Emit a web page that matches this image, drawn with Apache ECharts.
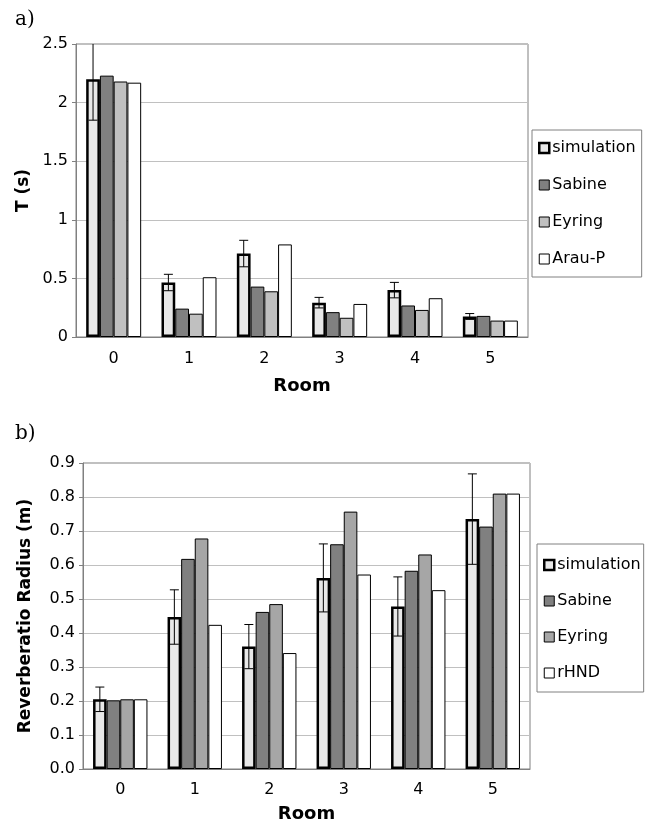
<!DOCTYPE html>
<html>
<head>
<meta charset="utf-8">
<script src="https://cdn.jsdelivr.net/npm/echarts@6/dist/echarts.min.js"></script>
<style>
html,body{margin:0;padding:0;background:#fff;}
#c1{position:absolute;left:0;top:0;width:648px;height:400px;}
#c2{position:absolute;left:0;top:400px;width:648px;height:428px;}
</style>
</head>
<body>
<div id="c1"></div>
<div id="c2"></div>
<script>
// ---- data ----
const rooms = ['0', '1', '2', '3', '4', '5'];
// a) reverberation time T (s)
const tSim    = [2.20, 0.465, 0.712, 0.293, 0.400, 0.175];
const tSimErr = [0.35, 0.070, 0.113, 0.045, 0.066, 0.025];
const tSabine = [2.23, 0.242, 0.430, 0.212, 0.269, 0.180];
const tEyring = [2.18, 0.199, 0.390, 0.164, 0.231, 0.140];
const tArau   = [2.17, 0.510, 0.790, 0.282, 0.331, 0.140];
// b) reverberation radius (m)
const rSim    = [0.205, 0.447, 0.360, 0.562, 0.478, 0.735];
const rSimErr = [0.036, 0.080, 0.065, 0.100, 0.087, 0.133];
const rSabine = [0.202, 0.618, 0.462, 0.661, 0.583, 0.713];
const rEyring = [0.205, 0.678, 0.485, 0.757, 0.631, 0.810];
const rHND    = [0.205, 0.424, 0.341, 0.572, 0.526, 0.810];

const FONT = 'DejaVu Sans';
const CAT_GAP = 0.27;

function errSeries(vals, errs) {
  return {
    type: 'custom',
    z: 10,
    silent: true,
    data: vals.map((v, i) => [i, v, errs[i]]),
    renderItem: function (params, api) {
      const i = api.value(0), v = api.value(1), e = api.value(2);
      const c = api.coord([i, v]);
      const band = api.size([1, 0])[0];
      const w = band * (1 - CAT_GAP) / 4;
      const x = c[0] - 1.5 * w;
      let top = api.coord([i, v + e])[1];
      const bot = api.coord([i, v - e])[1];
      const cs = params.coordSys;
      const clipped = top < cs.y;
      if (clipped) top = cs.y;
      const st = { stroke: '#000', lineWidth: 1 };
      const ch = [
        { type: 'line', shape: { x1: x, y1: top, x2: x, y2: bot }, style: st },
        { type: 'line', shape: { x1: x - 4.5, y1: bot, x2: x + 4.5, y2: bot }, style: st }
      ];
      if (!clipped) ch.push({ type: 'line', shape: { x1: x - 4.5, y1: top, x2: x + 4.5, y2: top }, style: st });
      return { type: 'group', children: ch };
    }
  };
}

function barSeries(name, data, color, bw) {
  return {
    name: name, type: 'bar', data: data,
    barGap: '0%', barCategoryGap: (CAT_GAP * 100) + '%',
    itemStyle: { color: color, borderColor: '#000', borderWidth: bw }
  };
}

function legendCfg(names, colors, left, top, gap, pad) {
  return {
    orient: 'vertical', left: left, top: top,
    padding: pad, itemGap: gap,
    itemWidth: 10, itemHeight: 10,
    borderColor: '#808080', borderWidth: 1,
    icon: 'rect',
    textStyle: { fontFamily: FONT, fontSize: 16, color: '#000', padding: [0, 0, 0, -2] },
    data: names.map((n, i) => ({
      name: n,
      itemStyle: { color: colors[i], borderColor: '#000', borderWidth: i === 0 ? 2.5 : 1 }
    }))
  };
}

function makeOption(o) {
  return {
    animation: false,
    graphic: [{
      type: 'text', left: 15, top: o.labelTop,
      style: { text: o.label, font: '20px "DejaVu Serif"', fill: '#000' }
    }],
    legend: legendCfg(o.names, o.colors, o.legLeft, o.legTop, o.legGap, o.legPad),
    grid: {
      left: o.gl, top: o.gt, width: o.gw, height: o.gh,
      show: true, borderColor: '#808080', borderWidth: 1
    },
    xAxis: {
      type: 'category', data: rooms,
      name: 'Room', nameLocation: 'middle', nameGap: o.xNameGap,
      nameTextStyle: { fontFamily: FONT, fontSize: 18, fontWeight: 'bold', color: '#000' },
      axisLine: { lineStyle: { color: '#808080' } },
      axisTick: { length: 5, lineStyle: { color: '#808080' } },
      axisLabel: { fontFamily: FONT, fontSize: 16, color: '#000', margin: o.xMargin }
    },
    yAxis: {
      type: 'value', min: 0, max: o.ymax, interval: o.yint,
      name: o.yname, nameLocation: 'middle', nameGap: o.yNameGap,
      nameTextStyle: { fontFamily: FONT, fontSize: 17, fontWeight: 'bold', color: '#000' },
      axisLine: { show: true, lineStyle: { color: '#808080' } },
      axisTick: { show: true, length: 4, lineStyle: { color: '#808080' } },
      splitLine: { lineStyle: { color: '#c0c0c0' } },
      axisLabel: {
        fontFamily: FONT, fontSize: 16, color: '#000', margin: 8,
        formatter: o.yfmt
      }
    },
    series: [
      barSeries(o.names[0], o.d[0], o.colors[0], 2.5),
      barSeries(o.names[1], o.d[1], o.colors[1], 1),
      barSeries(o.names[2], o.d[2], o.colors[2], 1),
      barSeries(o.names[3], o.d[3], o.colors[3], 1),
      errSeries(o.d[0], o.err)
    ]
  };
}

const c1 = echarts.init(document.getElementById('c1'));
c1.setOption(makeOption({
  label: 'a)', labelTop: 10,
  names: ['simulation', 'Sabine', 'Eyring', 'Arau-P'],
  colors: ['#e8e8e8', '#808080', '#c0c0c0', '#ffffff'],
  d: [tSim, tSabine, tEyring, tArau], err: tSimErr,
  legLeft: 532, legTop: 130, legGap: 21, legPad: [10, 6, 10, 6],
  gl: 76, gt: 44, gw: 452, gh: 310,
  xNameGap: 40, xMargin: 14,
  ymax: 2.5, yint: 0.5, yname: 'T (s)', yNameGap: 44,
  yfmt: function (v) { return String(+v.toFixed(1)); }
}));

const c2 = echarts.init(document.getElementById('c2'));
c2.setOption(makeOption({
  label: 'b)', labelTop: 24,
  names: ['simulation', 'Sabine', 'Eyring', 'rHND'],
  colors: ['#e8e8e8', '#808080', '#a6a6a6', '#ffffff'],
  d: [rSim, rSabine, rEyring, rHND], err: rSimErr,
  legLeft: 537, legTop: 144, legGap: 20, legPad: [13, 3, 11, 6],
  gl: 83, gt: 63, gw: 447, gh: 309.5,
  xNameGap: 36, xMargin: 13,
  ymax: 0.9, yint: 0.1, yname: 'Reverberatio Radius (m)', yNameGap: 49,
  yfmt: function (v) { return v.toFixed(1); }
}));
</script>
</body>
</html>
